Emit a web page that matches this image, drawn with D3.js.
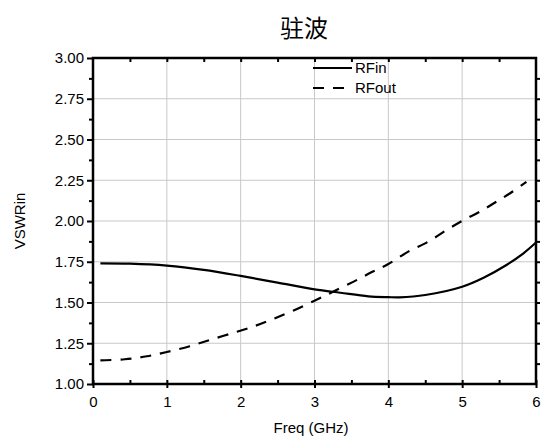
<!DOCTYPE html>
<html>
  <head>
    <meta charset="utf-8">
    <script src="https://cdn.jsdelivr.net/npm/d3@7"></script>
    <style>
      body { margin: 0; background: #fff; }
      text { font-family: "Liberation Sans", Arial, sans-serif; fill: #000; }
    </style>
  </head>
  <body>
    <svg width="543" height="436"></svg>
    <script>
      // values
      var freqIn  = [0.1, 0.5, 1.0, 1.5, 2.0, 2.5, 3.0, 3.35, 3.73, 4.0, 4.15, 4.5, 5.0, 5.29, 5.6, 5.83, 6.0]
      var rfIn    = [1.740, 1.738, 1.726, 1.700, 1.663, 1.622, 1.581, 1.560, 1.538, 1.533, 1.532, 1.546, 1.597, 1.652, 1.730, 1.802, 1.868]
      var freqOut = [0.1, 0.43, 0.73, 1.0, 1.31, 1.61, 1.95, 2.2, 2.44, 2.71, 3.0, 3.25, 3.53, 3.77, 4.0, 4.27, 4.54, 4.79, 5.02, 5.24, 5.44, 5.65, 5.87]
      var rfOut   = [1.145, 1.152, 1.170, 1.196, 1.232, 1.274, 1.321, 1.357, 1.399, 1.450, 1.511, 1.566, 1.628, 1.685, 1.736, 1.812, 1.873, 1.945, 2.006, 2.057, 2.112, 2.170, 2.240]
      var xTicks = [0, 1, 2, 3, 4, 5, 6]
      var yTicks = [1.00, 1.25, 1.50, 1.75, 2.00, 2.25, 2.50, 2.75, 3.00]
      var seriesNames = ['RFin', 'RFout']

      var svg = d3.select('svg')
      var pl = 93, pr = 536, pt = 58, pb = 384

      var x = d3.scaleLinear().domain([0, 6]).range([pl, pr])
      var y = d3.scaleLinear().domain([1, 3]).range([pb, pt])

      // grid
      svg.selectAll('.gx').data(xTicks.slice(1, -1)).enter().append('line')
        .attr('x1', d => x(d)).attr('x2', d => x(d))
        .attr('y1', pt).attr('y2', pb)
        .attr('stroke', '#c8c8c8').attr('stroke-width', 1)
      svg.selectAll('.gy').data(yTicks.slice(1, -1)).enter().append('line')
        .attr('x1', pl).attr('x2', pr)
        .attr('y1', d => y(d)).attr('y2', d => y(d))
        .attr('stroke', '#c8c8c8').attr('stroke-width', 1)

      // left axis (major + minor, outward)
      var yl = svg.append('g').attr('transform', 'translate(' + pl + ',0)')
        .call(d3.axisLeft(y).tickValues(yTicks).tickFormat(d3.format('.2f')).tickSize(6).tickPadding(3))
      yl.selectAll('text').style('font-size', '15px')
      svg.append('g').attr('transform', 'translate(' + pl + ',0)')
        .call(d3.axisLeft(y).tickValues(d3.range(1.125, 3, 0.25)).tickFormat('').tickSize(4))

      // bottom axis
      var xb = svg.append('g').attr('transform', 'translate(0,' + pb + ')')
        .call(d3.axisBottom(x).tickValues(xTicks).tickFormat(d3.format('d')).tickSize(4).tickPadding(8))
      xb.selectAll('text').style('font-size', '15px')
      svg.append('g').attr('transform', 'translate(0,' + pb + ')')
        .call(d3.axisTop(x).tickValues(d3.range(0, 6.01, 0.5)).tickFormat('').tickSize(4))

      // top & right axes
      svg.append('g').attr('transform', 'translate(0,' + pt + ')')
        .call(d3.axisBottom(x).tickValues(d3.range(0.5, 6, 0.5)).tickFormat('').tickSize(4))
      svg.append('g').attr('transform', 'translate(' + pr + ',0)')
        .call(d3.axisRight(y).tickValues(d3.range(1.125, 3, 0.125)).tickFormat('').tickSize(4))

      svg.selectAll('.domain').remove()
      svg.selectAll('.tick line').attr('stroke-width', 2)

      // frame
      svg.append('rect').attr('x', pl).attr('y', pt).attr('width', pr - pl).attr('height', pb - pt)
        .attr('fill', 'none').attr('stroke', '#000').attr('stroke-width', 2.5)

      var line = d3.line().x(d => x(d[0])).y(d => y(d[1])).curve(d3.curveCatmullRom)

      svg.append('path').datum(d3.zip(freqIn, rfIn)).attr('d', line)
        .attr('fill', 'none').attr('stroke', '#000').attr('stroke-width', 2.2)
      svg.append('path').datum(d3.zip(freqOut, rfOut)).attr('d', line)
        .attr('fill', 'none').attr('stroke', '#000').attr('stroke-width', 2.2)
        .attr('stroke-dasharray', '11,9')

      // legend
      var lg = svg.selectAll('.lg').data(seriesNames).enter().append('g')
        .attr('transform', (d, i) => 'translate(313,' + (68 + i * 20) + ')')
      lg.append('line').attr('x1', 0).attr('x2', 39).attr('y1', 0).attr('y2', 0)
        .attr('stroke', '#000').attr('stroke-width', 2.2)
        .attr('stroke-dasharray', (d, i) => i ? '11,9' : null)
      lg.append('text').attr('x', 42).attr('y', 5).style('font-size', '15px').text(d => d)

      // titles
      svg.append('text').attr('x', 304).attr('y', 37).attr('text-anchor', 'middle')
        .style('font-family', '"Noto Sans CJK SC"').style('font-size', '24px').text('驻波')
      svg.append('text').attr('x', 311).attr('y', 433).attr('text-anchor', 'middle')
        .style('font-size', '15px').text('Freq (GHz)')
      svg.append('text').attr('transform', 'translate(25,221) rotate(-90)').attr('text-anchor', 'middle')
        .style('font-size', '15px').text('VSWRin')
    </script>
  </body>
</html>
